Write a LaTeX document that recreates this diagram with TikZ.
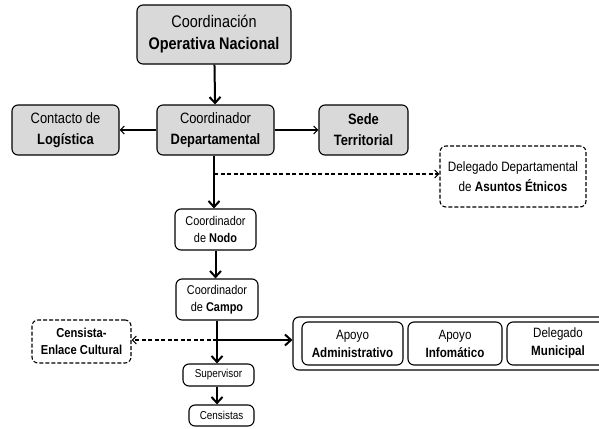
\documentclass[tikz,border=0pt]{standalone}
\usepackage{fontspec}
\setmainfont{Liberation Sans}[FakeStretch=0.86]
\usetikzlibrary{arrows.meta}
\definecolor{boxgray}{HTML}{D9D9D9}

\begin{document}
\begin{tikzpicture}[x=1pt,y=-1pt,
  orgbox/.style={draw,line width=1.1pt,rounded corners=6pt,align=center,inner sep=1pt},
  graybox/.style={orgbox,fill=boxgray},
  dashbox/.style={orgbox,dash pattern=on 4pt off 2pt},
  mainline/.style={line width=2pt,-{Straight Barb[length=6pt,width=11pt]}},
  sideline/.style={line width=1.1pt,-{Straight Barb[length=4pt,width=8pt]}},
  dashline/.style={sideline,dash pattern=on 4pt off 2.5pt}]
\clip (0,0) rectangle (599,428);
% central column
\node[graybox,minimum width=154,minimum height=59,font=\fontsize{16.8}{22}\selectfont] (cnac) at (214,34.5) {Coordinación\\\textbf{Operativa Nacional}};
\node[graybox,minimum width=117,minimum height=50,font=\fontsize{15}{21}\selectfont] (cdep) at (215.5,130) {Coordinador\\\textbf{Departamental}};
\node[graybox,minimum width=107,minimum height=50,font=\fontsize{15}{21}\selectfont] (clog) at (65.5,130) {Contacto de\\\textbf{Logística}};
\node[graybox,minimum width=89,minimum height=50,font=\fontsize{15}{21}\selectfont] (sede) at (363.5,130) {\textbf{Sede}\\\textbf{Territorial}};
\node[dashbox,minimum width=146,minimum height=61,font=\fontsize{13.6}{19.5}\selectfont] (deleg) at (513,176.5) {Delegado Departamental\\de \textbf{Asuntos Étnicos}};
\node[orgbox,minimum width=81,minimum height=41,font=\fontsize{12.7}{17}\selectfont] (cnodo) at (215.5,229.5) {Coordinador\\de \textbf{Nodo}};
\node[orgbox,minimum width=82,minimum height=41,font=\fontsize{12.7}{17}\selectfont] (ccampo) at (217,299.5) {Coordinador\\de \textbf{Campo}};
\node[dashbox,minimum width=99,minimum height=43,font=\fontsize{13}{17}\selectfont] (cens) at (81.5,341.5) {\textbf{Censista-}\\\textbf{Enlace Cultural}};
\node[orgbox,minimum width=71,minimum height=22,font=\fontsize{11.5}{14}\selectfont] (sup) at (218.5,375) {Supervisor};
\node[orgbox,minimum width=65,minimum height=21,font=\fontsize{11.5}{14}\selectfont] (censi) at (221.5,415.5) {Censistas};
% support group
\node[orgbox,minimum width=312,minimum height=53] (grupo) at (449,343.5) {};
\node[orgbox,minimum width=101,minimum height=43,font=\fontsize{13.5}{18}\selectfont] (adm) at (352.5,343.5) {Apoyo\\\textbf{Administrativo}};
\node[orgbox,minimum width=94,minimum height=43,font=\fontsize{13.5}{18}\selectfont] (inf) at (455,343.5) {Apoyo\\\textbf{Infomático}};
\node[orgbox,minimum width=102,minimum height=43,font=\fontsize{13.5}{18}\selectfont] (mun) at (558,343.5) {Delegado\\\textbf{Municipal}};
% connectors
\coordinate (jdel) at (214,174);
\coordinate (jcampo) at (217,340);
\draw[mainline] (cnac) -- (cdep);
\draw[sideline] (cdep) -- (clog);
\draw[sideline] (cdep) -- (sede);
\draw[mainline] (cdep.south -| jdel) -- (cnodo.north -| jdel);
\draw[dashline] (jdel) -- (jdel -| deleg.west);
\draw[mainline] (cnodo.south -| cnodo) -- (ccampo.north -| cnodo);
\draw[mainline] (ccampo.south -| jcampo) -- (sup.north -| jcampo);
\draw[mainline] (jcampo) -- (jcampo -| grupo.west);
\draw[dashline] (jcampo) -- (jcampo -| cens.east);
\draw[mainline] (sup.south -| jcampo) -- (censi.north -| jcampo);
\end{tikzpicture}
\end{document}
